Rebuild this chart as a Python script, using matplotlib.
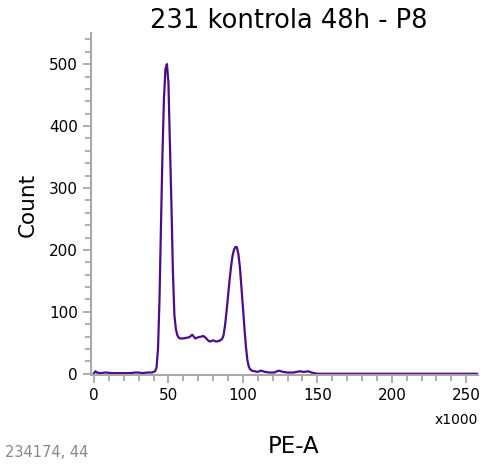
import matplotlib.pyplot as plt
from matplotlib.ticker import MultipleLocator

# PE-A (x1000) and counts
pe_a = [0, 1, 2, 4, 8, 12, 16, 20, 24, 28, 30, 32, 36, 39, 41, 42, 43, 44, 45, 46,
        47, 48, 49, 50, 51, 52, 53, 54, 55, 56, 57, 58, 60, 62, 64, 66, 68, 70,
        72, 73.5, 75, 77, 78, 80, 82, 84, 86, 87, 88, 89, 90, 91, 92, 93, 94, 95,
        96, 97, 98, 99, 100, 101, 102, 103, 104, 105, 106, 108, 110, 112, 115,
        118, 121, 124, 127, 130, 134, 138, 141, 144, 146, 148, 150, 160, 200, 258]
count = [1, 4, 2, 1, 2, 1, 1, 1, 1, 2, 2, 1, 2, 2, 4, 10, 40, 120, 240, 355,
         445, 492, 500, 470, 370, 275, 165, 95, 72, 62, 58, 57, 57, 58, 59, 63, 57, 59,
         60, 61, 58, 53, 52, 54, 52, 53, 56, 62, 78, 100, 125, 150, 172, 190, 200, 205,
         204, 193, 172, 140, 108, 75, 45, 22, 11, 7, 5, 4, 3, 5, 3,
         2, 2, 5, 3, 2, 2, 4, 3, 4, 2, 1, 0, 0, 0, 0]

title = "231 kontrola 48h - P8"
event_info = "234174, 44"

fig = plt.figure(figsize=(4.84, 4.67), dpi=100)
ax = fig.add_axes([0.188, 0.197, 0.800, 0.732])

ax.plot(pe_a, count, color="#4b0c8c", linewidth=1.6)

ax.set_xlim(-2, 258)
ax.set_ylim(-2, 550)
ax.xaxis.set_major_locator(MultipleLocator(50))
ax.xaxis.set_minor_locator(MultipleLocator(10))
ax.yaxis.set_major_locator(MultipleLocator(100))
ax.yaxis.set_minor_locator(MultipleLocator(20))

for side in ["top", "right"]:
    ax.spines[side].set_visible(False)
for side in ["left", "bottom"]:
    ax.spines[side].set_color("#a8a8a8")
    ax.spines[side].set_linewidth(1.5)

ax.tick_params(which="both", colors="#a8a8a8", width=1.3, labelcolor="black",
               labelsize=11)
ax.tick_params(which="major", length=6)
ax.tick_params(which="minor", length=4)

fig.text(0.597, 0.940, title, fontsize=18.5, ha="center", va="baseline")
fig.text(0.058, 0.561, "Count", fontsize=15.5, rotation=90, ha="center", va="center")
fig.text(0.607, 0.043, "PE-A", fontsize=16.5, ha="center", va="center")
fig.text(0.988, 0.1006, "x1000", fontsize=10, ha="right", va="center")
fig.text(0.01, 0.030, event_info, fontsize=10.5, color="#888888", va="center")

fig.savefig("out.png", dpi=100)
